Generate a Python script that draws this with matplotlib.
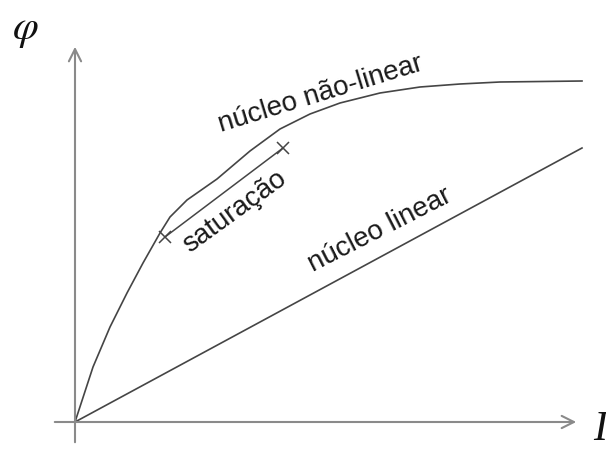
import matplotlib.pyplot as plt

# Magnetization curves: flux (phi) against current (I)
corrente_nl = [0, 18, 35, 52, 68, 85, 95, 112, 142, 175, 205, 235, 265, 305, 345, 385, 425, 507]
fluxo_nl = [0, 55, 95, 129, 159, 189, 205, 222, 243, 271, 293, 308, 319, 329, 335, 338, 340, 341]

corrente_lin = [0, 507]
fluxo_lin = [0, 274]

# Saturation marker, drawn just under the knee of the curve
corrente_sat = [90, 208]
fluxo_sat = [185, 274]

eixo_cor = '#8a8a8a'
linha_cor = '#454545'

fig = plt.figure(figsize=(6.06, 4.5), dpi=100)
ax = fig.add_axes([0, 0, 1, 1])
ax.set_xlim(-75, 531)
ax.set_ylim(-28, 422)
ax.axis('off')

# Axes with open arrow heads
ax.annotate('', xy=(0, 378), xytext=(0, -23),
            arrowprops=dict(arrowstyle='->', color=eixo_cor, lw=1.5, mutation_scale=22))
ax.annotate('', xy=(504, 0), xytext=(-23, 0),
            arrowprops=dict(arrowstyle='->', color=eixo_cor, lw=1.5, mutation_scale=22))

ax.plot(corrente_nl, fluxo_nl, color=linha_cor, lw=1.2)
ax.plot(corrente_lin, fluxo_lin, color=linha_cor, lw=1.2)
ax.plot(corrente_sat, fluxo_sat, color=linha_cor, lw=1.1, marker='x', ms=8, mew=1.1)

texto = dict(family='Liberation Sans', fontsize=20, color='#1a1a1a',
             ha='center', va='center', rotation_mode='anchor')
ax.text(246, 328, 'núcleo não-linear', rotation=17, **texto)
ax.text(160, 210, 'saturação', rotation=36, **texto)
ax.text(305, 192, 'núcleo linear', rotation=27, **texto)

ax.text(-50, 393, r'$\varphi$', fontsize=30, ha='center', va='center', color='#111111',
        math_fontfamily='stix')
ax.text(518, -8, 'I', family='Liberation Serif', style='italic', fontsize=30,
        ha='left', va='center', color='#111111')

fig.savefig('out.png', dpi=100)
